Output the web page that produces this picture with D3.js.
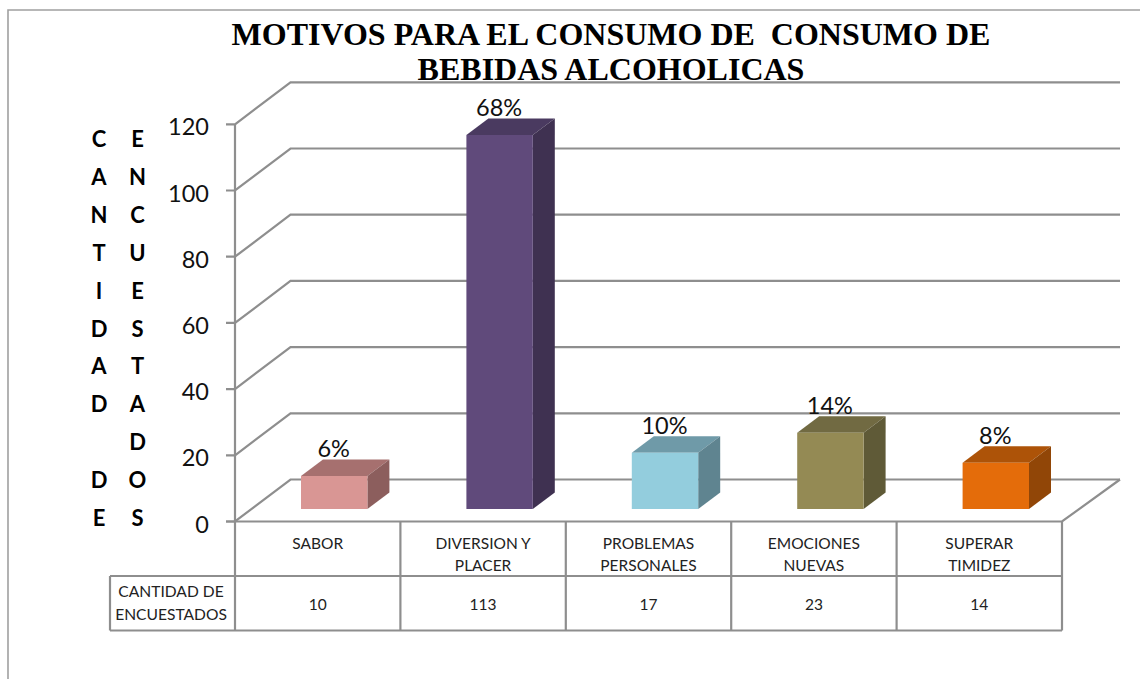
<!DOCTYPE html>
<html><head><meta charset="utf-8">
<script src="https://cdn.jsdelivr.net/npm/d3@7/dist/d3.min.js"></script>
<style>html,body{margin:0;padding:0;background:#fff;overflow:hidden}svg{display:block}</style>
</head><body><div id="c"></div>
<script>
const categories = [["SABOR"],["DIVERSION Y","PLACER"],["PROBLEMAS","PERSONALES"],["EMOCIONES","NUEVAS"],["SUPERAR","TIMIDEZ"]];
const values = [10,113,17,23,14];
const percentLabels = ["6%","68%","10%","14%","8%"];
const frontColors = ["#D99694","#604A7B","#93CDDD","#948A54","#E46C0A"];
const topColors = ["#A6706F","#4A3A60","#6F9AA8","#716A42","#AD5308"];
const sideColors = ["#8C5E5D","#3F3151","#5F8490","#5F5A37","#914607"];
const yTicks = [0,20,40,60,80,100,120];
const titleLines = ["MOTIVOS PARA EL CONSUMO DE  CONSUMO DE","BEBIDAS ALCOHOLICAS"];
const yTitleCol1 = ["C","A","N","T","I","D","A","D","","D","E"];
const yTitleCol2 = ["E","N","C","U","E","S","T","A","D","O","S"];
const tableHeader = ["CANTIDAD DE","ENCUESTADOS"];

const W=1140,H=679, grid="#8E8E8E", sans="Lato, 'Open Sans', sans-serif";
const svg=d3.select("#c").append("svg").attr("width",W).attr("height",H);
const names=categories.map(c=>c.join(" "));
const x=d3.scaleBand().domain(names).range([235,1062]);
const y=d3.scaleLinear().domain([0,120]).range([521.5,124.3]);
const backLeft=290.5, backRight=1120, backRise=-42;
const barShift=[16.5,-12.5], barDepth=[22,-16.5], barW=66.4;
const line=(p,w=2.2,c=grid)=>svg.append("path").attr("d",d3.line()(p)).attr("fill","none").attr("stroke",c).attr("stroke-width",w);

// outer frame
line([[8,679],[8,10],[1140,10]],1.6,"#A0A0A0");

// walls and gridlines
yTicks.forEach(t=>{
  const Y=y(t);
  line([[226,Y],[235,Y],[backLeft,Y+backRise],[backRight,Y+backRise]]);
  svg.append("text").attr("x",209).attr("y",Y+11).attr("text-anchor","end")
    .attr("font-family",sans).attr("font-size",23.5).attr("fill","#111").text(t);
});
line([[235,y(0)],[235,y(120)]]);
line([[backRight,y(0)+backRise],[1062,y(0)],[226,y(0)]]);

// title (over the gridline, as in the reference)
titleLines.forEach((t,i)=>svg.append("text").attr("x",611).attr("y",45+i*35).attr("text-anchor","middle")
  .attr("font-family","'Liberation Serif',serif").attr("font-weight","bold").attr("font-size",32)
  .attr("xml:space","preserve").style("white-space","pre").attr("fill","#000").text(t));

// 3D bars
names.forEach((n,i)=>{
  const x0=x(n)+(x.bandwidth()-barW)/2+barShift[0], x1=x0+barW;
  const yb=y(0)+barShift[1], yt=y(values[i])+barShift[1];
  const dx=barDepth[0], dy=barDepth[1];
  const g=svg.append("g");
  const poly=(p,c)=>g.append("polygon").attr("points",p.join(" ")).attr("fill",c);
  poly([[x0,yt],[x1,yt],[x1+dx,yt+dy],[x0+dx,yt+dy]],topColors[i]);
  poly([[x1,yt],[x1+dx,yt+dy],[x1+dx,yb+dy],[x1,yb]],sideColors[i]);
  poly([[x0,yt],[x1,yt],[x1,yb],[x0,yb]],frontColors[i]);
  svg.append("text").attr("x",(x0+x1)/2-0.5).attr("y",yt+dy-2).attr("text-anchor","middle")
    .attr("font-family",sans).attr("font-size",23.5).attr("fill","#111").text(percentLabels[i]);
});

// data table
const r0=y(0), r1=576, r2=630.5;
names.forEach((n,i)=>{
  const X=x(n);
  line([[X,r0],[X,r2]]);
  const cx=X+x.bandwidth()/2;
  const lines=categories[i];
  lines.forEach((l,j)=>svg.append("text").attr("x",cx).attr("y",549+j*22)
    .attr("text-anchor","middle").attr("font-family",sans).attr("font-size",15.5).attr("fill","#222").text(l));
  svg.append("text").attr("x",cx).attr("y",609.5).attr("text-anchor","middle")
    .attr("font-family",sans).attr("font-size",15.5).attr("fill","#222").text(values[i]);
});
line([[1062,r0],[1062,r2]]);
line([[110,r1],[1062,r1]]);
line([[110,r2],[1062,r2]]);
line([[110,r1],[110,r2]]);
tableHeader.forEach((l,j)=>svg.append("text").attr("x",171).attr("y",596.7+j*23.3)
  .attr("text-anchor","middle").attr("font-family",sans).attr("font-size",15.6).attr("fill","#222").text(l));

// vertical axis title
[[99,yTitleCol1],[137.5,yTitleCol2]].forEach(([cx,col])=>col.forEach((ch,i)=>
  svg.append("text").attr("x",cx).attr("y",147+i*37.9).attr("text-anchor","middle")
    .attr("font-family",sans).attr("font-weight","bold").attr("font-size",22).attr("fill","#000").text(ch)));
</script></body></html>
